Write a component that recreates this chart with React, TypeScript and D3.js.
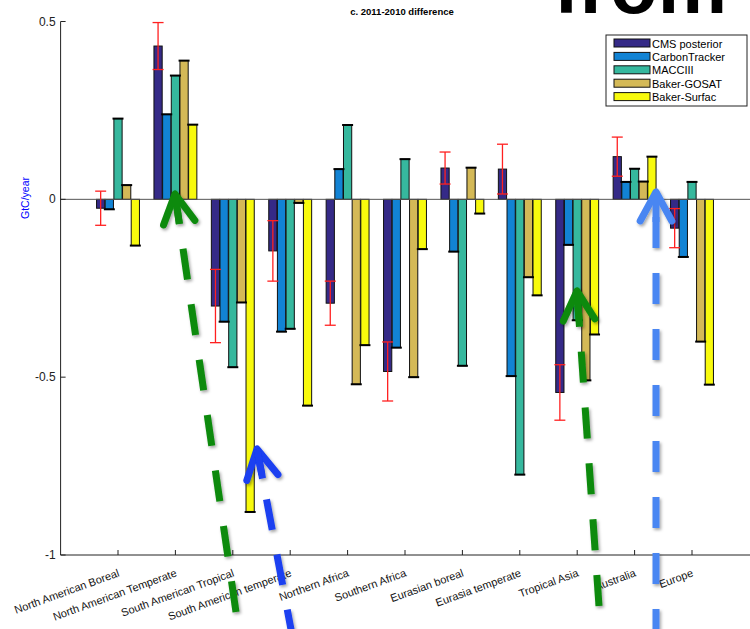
import React from "react";
import * as d3 from "d3";

const categories = [
  "North American Boreal",
  "North American Temperate",
  "South American Tropical",
  "South American temperate",
  "Northern Africa",
  "Southern Africa",
  "Eurasian boreal",
  "Eurasia temperate",
  "Tropical Asia",
  "Australia",
  "Europe",
];
const seriesNames = ["CMS posterior", "CarbonTracker", "MACCIII", "Baker-GOSAT", "Baker-Surfac"];
const seriesColors = ["#352a87", "#1283d4", "#36b89e", "#d4b957", "#f8fa0d"];
const cms = [-0.025, 0.431, -0.3, -0.145, -0.292, -0.484, 0.088, 0.085, -0.543, 0.12, -0.081];
const cmsErr = [0.048, 0.066, 0.103, 0.085, 0.062, 0.083, 0.045, 0.07, 0.078, 0.055, 0.055];
const carbonTracker = [-0.028, 0.239, -0.344, -0.372, 0.085, -0.417, -0.147, -0.497, -0.128, 0.049, -0.162];
const macc = [0.227, 0.348, -0.472, -0.364, 0.209, 0.113, -0.468, -0.774, -0.34, 0.086, 0.049];
const gosat = [0.04, 0.39, -0.29, -0.01, -0.52, -0.5, 0.089, -0.219, -0.509, 0.05, -0.4];
const surfac = [-0.13, 0.21, -0.879, -0.58, -0.41, -0.14, -0.04, -0.27, -0.38, 0.12, -0.521];
const yTicks = [0.5, 0, -0.5, -1];
const yTickLabels = ["0.5", "0", "-0.5", "-1"];

const series = [cms, carbonTracker, macc, gosat, surfac];

// annotation arrows (tip, tail, colour)
const arrows = [
  { tip: [175, 194], tail: [236, 612], color: "#0a8a0a" },
  { tip: [257, 449], tail: [293, 640], color: "#1a3ff0" },
  { tip: [577, 291], tail: [599, 606], color: "#0a8a0a" },
  { tip: [656, 192], tail: [656, 640], color: "#4a86f2" },
];

export default function App() {
  const W = 750, H = 629;
  const x = d3.scaleLinear().domain([0, 12]).range([60.6, 749.4]);
  const y = d3.scaleLinear().domain([-1, 0.5]).range([555, 21.5]);
  const step = (x(1) - x(0)) * 0.151;
  const bw = step * 0.95;
  const font = "'Liberation Sans', Arial, Helvetica, sans-serif";

  const bars: JSX.Element[] = [];
  const caps: JSX.Element[] = [];
  series.forEach((vals, s) => {
    vals.forEach((v, i) => {
      const cx = x(i + 1) + (s - 2) * step;
      const y0 = y(0), y1 = y(v);
      bars.push(
        <rect key={`b${s}-${i}`} x={cx - bw / 2} y={Math.min(y0, y1)} width={bw}
          height={Math.abs(y1 - y0)} fill={seriesColors[s]} stroke="#111" strokeWidth={1} />
      );
      if (s === 0) {
        const e = cmsErr[i];
        const ya = y(v + e), yb = y(v - e);
        caps.push(
          <g key={`e${i}`} stroke="#ff2020" strokeWidth={1.3}>
            <line x1={cx} x2={cx} y1={ya} y2={yb} />
            <line x1={cx - 5.5} x2={cx + 5.5} y1={ya} y2={ya} />
            <line x1={cx - 5.5} x2={cx + 5.5} y1={yb} y2={yb} />
          </g>
        );
      } else {
        caps.push(
          <line key={`c${s}-${i}`} x1={cx - 5.5} x2={cx + 5.5} y1={y1} y2={y1} stroke="#000" strokeWidth={2} />
        );
      }
    });
  });

  return (
    <svg width={W} height={H} style={{ position: "absolute", left: 0, top: 0, background: "#fff" }}>
      <defs>
        <filter id="sh" x="-50%" y="-50%" width="200%" height="200%">
          <feDropShadow dx="1.5" dy="2" stdDeviation="1.5" floodColor="#000" floodOpacity="0.35" />
        </filter>
      </defs>
      <rect width={W} height={H} fill="#fff" />
      <text x={727} y={13} textAnchor="end" fontFamily={font} fontWeight="bold" fontSize={78} fill="#000">from</text>
      <text x={402} y={15} textAnchor="middle" fontFamily={font} fontWeight="bold" fontSize={9.5} fill="#000">
        c. 2011-2010 difference
      </text>
      {bars}
      <line x1={x(0)} x2={W} y1={y(0)} y2={y(0)} stroke="#555" strokeWidth={1} />
      {caps}
      {/* axes */}
      <line x1={x(0)} x2={x(0)} y1={y(0.5)} y2={y(-1)} stroke="#222" strokeWidth={1} />
      <line x1={x(0)} x2={W} y1={y(-1)} y2={y(-1)} stroke="#222" strokeWidth={1} />
      {yTicks.map((t, i) => (
        <g key={`yt${i}`}>
          <line x1={x(0)} x2={x(0) + 5} y1={y(t)} y2={y(t)} stroke="#222" />
          <text x={x(0) - 5} y={y(t) + 4} textAnchor="end" fontFamily={font} fontSize={12} fill="#222">
            {yTickLabels[i]}
          </text>
        </g>
      ))}
      {categories.map((c, i) => (
        <g key={`xt${i}`}>
          <line x1={x(i + 1)} x2={x(i + 1)} y1={y(-1)} y2={y(-1) - 5} stroke="#222" />
          <text transform={`translate(${x(i + 1) + 2},${576}) rotate(-20)`} textAnchor="end"
            fontFamily={font} fontSize={11} fill="#111">{c}</text>
        </g>
      ))}
      <text transform={`translate(29,198) rotate(-90)`} textAnchor="middle" fontFamily={font}
        fontSize={10.5} fill="#0000ff">GtC/year</text>
      {/* legend */}
      <rect x={606} y={35} width={141} height={71} fill="#fff" stroke="#222" strokeWidth={1} />
      {seriesNames.map((n, i) => (
        <g key={`lg${i}`}>
          <rect x={614} y={39 + i * 13.4} width={36} height={8} fill={seriesColors[i]} stroke="#111" strokeWidth={1} />
          <text x={652} y={47.5 + i * 13.4} fontFamily={font} fontSize={11} fill="#000">{n}</text>
        </g>
      ))}
      {/* hand-drawn annotation arrows */}
      {arrows.map((a, i) => {
        const [tx, ty] = a.tip;
        const [bx, by] = a.tail;
        const ang = Math.atan2(by - ty, bx - tx);
        const L = 33, spread = 0.5;
        const p1 = [tx + L * Math.cos(ang - spread), ty + L * Math.sin(ang - spread)];
        const p2 = [tx + L * Math.cos(ang + spread), ty + L * Math.sin(ang + spread)];
        return (
          <g key={`ar${i}`} filter="url(#sh)" stroke={a.color} fill="none">
            <line x1={bx} y1={by} x2={tx + 8 * Math.cos(ang)} y2={ty + 8 * Math.sin(ang)}
              strokeWidth={7} strokeDasharray="31 25" />
            <path d={`M${p1[0]},${p1[1]} L${tx},${ty} L${p2[0]},${p2[1]}`} strokeWidth={7}
              strokeLinecap="round" strokeLinejoin="round" />
            <line x1={tx} y1={ty} x2={tx + 30 * Math.cos(ang)} y2={ty + 30 * Math.sin(ang)} strokeWidth={7} />
          </g>
        );
      })}
    </svg>
  );
}
